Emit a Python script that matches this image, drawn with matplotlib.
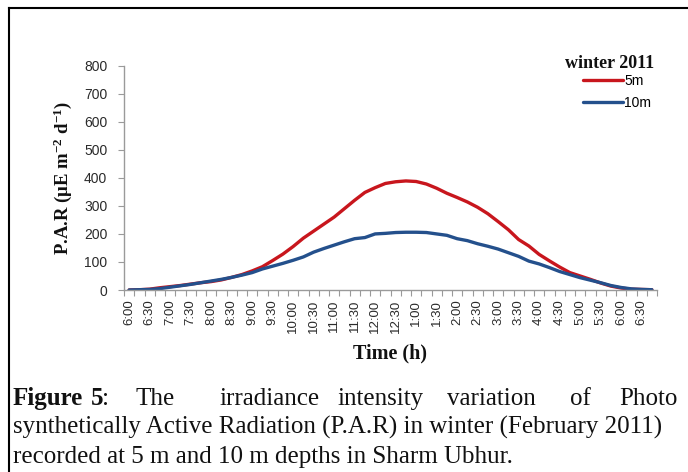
import numpy as np
import matplotlib.pyplot as plt
from matplotlib.lines import Line2D

plt.rcParams['font.family'] = ['Liberation Sans', 'DejaVu Sans']
plt.rcParams['mathtext.fontset'] = 'custom'
plt.rcParams['mathtext.rm'] = 'Liberation Serif:bold'
plt.rcParams['mathtext.it'] = 'Liberation Serif:bold'
plt.rcParams['mathtext.bf'] = 'Liberation Serif:bold'

# readings every 15 min, 6:00 am to 6:45 pm
times = [f"{(h - 1) % 12 + 1}:{m:02d}" for h in range(6, 19) for m in (0, 15, 30, 45)]

par_5m = [0, 1, 3, 8, 12, 16, 21, 26, 30, 36, 45, 55, 68, 83, 105, 128,
          155, 185, 210, 235, 260, 290, 320, 348, 365, 380, 386, 389, 387, 378,
          363, 345, 330, 314, 295, 272, 244, 215, 180, 157, 127, 104, 82, 62,
          50, 38, 25, 14, 7, 3, 2, 1]
par_10m = [0, 1, 2, 5, 10, 15, 20, 26, 32, 38, 45, 53, 62, 75, 85, 95,
           106, 118, 135, 148, 160, 172, 183, 187, 200, 202, 205, 206, 206, 205,
           200, 195, 183, 176, 165, 156, 146, 133, 120, 103, 93, 80, 66, 55,
           44, 35, 26, 16, 9, 4, 2, 1]

W, H = 688, 472
fig = plt.figure(figsize=(W / 100, H / 100), dpi=100)
ax = fig.add_axes([124 / W, 1 - 290 / H, (657 - 124) / W, (290 - 65.7) / H])

x = np.arange(len(times))
ax.plot(x, par_5m, color='#C8161D', lw=2.4, label='5m', solid_capstyle='round')
ax.plot(x, par_10m, color='#24508C', lw=2.4, label='10m', solid_capstyle='round')

ax.set_xlim(-0.5, len(times) - 0.5)
ax.set_ylim(0, 800)
ax.set_yticks(range(0, 801, 100))

ax.set_xticks(np.arange(-0.5, len(times)), minor=False)
ax.set_xticklabels([])
ax.set_xticks(x[::2], minor=True)
ax.set_xticklabels(times[::2], minor=True, rotation=90, fontsize=9.5, color='#2a2a2a')
ax.tick_params(axis='x', which='major', length=4, color='#9a9a9a', direction='out')
ax.tick_params(axis='x', which='minor', length=0, pad=7)
ax.tick_params(axis='y', length=4, color='#9a9a9a', labelsize=10,
               labelcolor='#2a2a2a', pad=8)

for s in ('top', 'right'):
    ax.spines[s].set_visible(False)
for s in ('left', 'bottom'):
    ax.spines[s].set_color('#9a9a9a')
    ax.spines[s].set_linewidth(1)

fig.text(63 / W, 1 - 178 / H, r'P.A.R ($\mu$E m$^{-2}$ d$^{-1}$)', rotation=90,
         ha='center', va='center', fontsize=13.5, family='Liberation Serif',
         fontweight='bold', color='#111111')
fig.text(390 / W, 1 - 353 / H, 'Time (h)', ha='center', va='center',
         fontsize=14.5, family='Liberation Serif', fontweight='bold', color='#111111')

leg = ax.legend(loc='upper left', bbox_to_anchor=(583 / W, 1 - 74 / H),
                bbox_transform=fig.transFigure, frameon=False, fontsize=10,
                handlelength=2.9, handletextpad=0.05,
                labelspacing=0.6, borderaxespad=0, borderpad=0)
fig.text(609.5 / W, 1 - 63 / H, 'winter 2011', ha='center', va='center',
         fontsize=13, family='Liberation Serif', fontweight='bold', color='#111111')

# outer frame
fig.add_artist(Line2D([9 / W, 9 / W], [0, 1 - 8 / H], color='black', lw=1.5))
fig.add_artist(Line2D([9 / W, 1], [1 - 8 / H, 1 - 8 / H], color='black', lw=1.5))

# caption
cap = dict(family='Liberation Serif', fontsize=18, color='#111111', va='baseline')
words1 = [('Figure', 13, 'bold'), ('5', 91, 'bold'), (':', 102, 'normal'),
          ('The', 135, 'normal'), ('irradiance', 219, 'normal'),
          ('intensity', 337, 'normal'), ('variation', 447, 'normal'),
          ('of', 570, 'normal'), ('Photo', 619, 'normal')]
for w, px, fw in words1:
    fig.text(px / W, 1 - 405 / H, w, fontweight=fw, **cap)
fig.text(13 / W, 1 - 434 / H,
         'synthetically Active Radiation (P.A.R) in winter (February 2011)', **cap)
fig.text(13 / W, 1 - 463 / H, 'recorded at 5 m and 10 m depths in Sharm Ubhur.', **cap)

fig.savefig('out.png', dpi=100)
